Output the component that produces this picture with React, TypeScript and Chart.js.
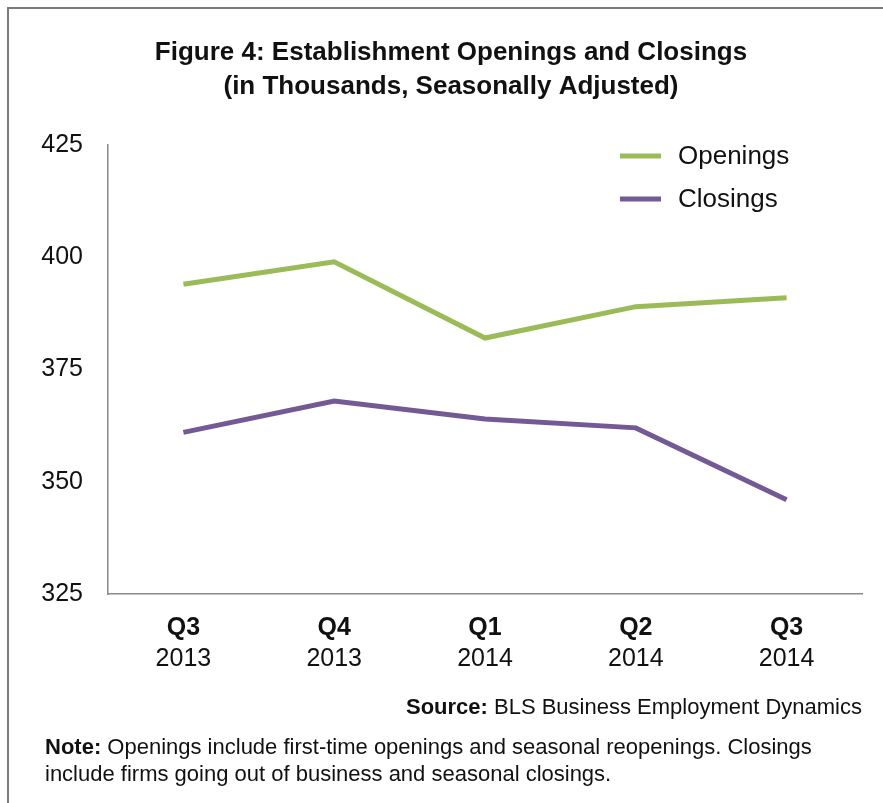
import React, { useEffect, useRef } from "react";
import { Chart, registerables } from "chart.js";

Chart.register(...registerables);

const quarters = ["Q3", "Q4", "Q1", "Q2", "Q3"];
const years = ["2013", "2013", "2014", "2014", "2014"];
const openings = [394, 399, 382, 389, 391];
const closings = [361, 368, 364, 362, 346];
const yTicks = [325, 350, 375, 400, 425];

const titleLines = [
  "Figure 4: Establishment Openings and Closings",
  "(in Thousands, Seasonally Adjusted)",
];
const sourceBold = "Source:";
const sourceText = " BLS Business Employment Dynamics";
const noteBold = "Note:";
const noteLine1 = " Openings include first-time openings and seasonal reopenings. Closings";
const noteLine2 = "include firms going out of business and seasonal closings.";

const FONT = "'Liberation Sans', Arial, Helvetica, sans-serif";
const GREEN = "#9BBB59";
const PURPLE = "#735A95";
const TEXT = "#111111";
const AXIS = "#8a8a8a";

const decorPlugin = {
  id: "decor",
  beforeDraw(chart: any) {
    const ctx = chart.ctx;
    ctx.save();
    ctx.fillStyle = "#ffffff";
    ctx.fillRect(0, 0, chart.width, chart.height);
    ctx.strokeStyle = "#7a7a7a";
    ctx.lineWidth = 2;
    ctx.beginPath();
    ctx.moveTo(8, chart.height);
    ctx.lineTo(8, 8);
    ctx.lineTo(chart.width, 8);
    ctx.stroke();
    ctx.restore();
  },
  afterDraw(chart: any) {
    const ctx = chart.ctx;
    ctx.save();
    // title
    ctx.fillStyle = TEXT;
    ctx.textAlign = "center";
    ctx.textBaseline = "middle";
    ctx.font = `bold 26px ${FONT}`;
    ctx.fillText(titleLines[0], 451, 53);
    ctx.fillText(titleLines[1], 451, 87);

    // legend
    const items = chart.data.datasets;
    const ys = [156, 199];
    items.forEach((ds: any, i: number) => {
      ctx.strokeStyle = ds.borderColor;
      ctx.lineWidth = 5;
      ctx.beginPath();
      ctx.moveTo(620, ys[i]);
      ctx.lineTo(661, ys[i]);
      ctx.stroke();
      ctx.fillStyle = TEXT;
      ctx.textAlign = "left";
      ctx.textBaseline = "middle";
      ctx.font = `26px ${FONT}`;
      ctx.fillText(ds.label, 678, ys[i] + 1);
    });

    // source (right aligned)
    ctx.textBaseline = "middle";
    ctx.textAlign = "left";
    ctx.font = `22px ${FONT}`;
    const wRest = ctx.measureText(sourceText).width;
    ctx.font = `bold 22px ${FONT}`;
    const wBold = ctx.measureText(sourceBold).width;
    const sx = 862 - wRest - wBold;
    ctx.fillText(sourceBold, sx, 708);
    ctx.font = `22px ${FONT}`;
    ctx.fillText(sourceText, sx + wBold, 708);

    // note
    ctx.font = `bold 22px ${FONT}`;
    const wn = ctx.measureText(noteBold).width;
    ctx.fillText(noteBold, 45, 748);
    ctx.font = `22px ${FONT}`;
    ctx.fillText(noteLine1, 45 + wn, 748);
    ctx.fillText(noteLine2, 45, 775);
    ctx.restore();
  },
};

export default function App() {
  const ref = useRef<HTMLCanvasElement | null>(null);
  useEffect(() => {
    if (!ref.current) return;
    const chart = new Chart(ref.current, {
      type: "line",
      data: {
        labels: quarters,
        datasets: [
          {
            label: "Openings",
            data: openings,
            borderColor: GREEN,
            backgroundColor: GREEN,
            borderWidth: 5,
            pointRadius: 0,
            tension: 0,
          },
          {
            label: "Closings",
            data: closings,
            borderColor: PURPLE,
            backgroundColor: PURPLE,
            borderWidth: 5,
            pointRadius: 0,
            tension: 0,
          },
        ],
      },
      options: {
        animation: false,
        responsive: false,
        maintainAspectRatio: false,
        layout: { padding: { left: 0, right: 21, top: 145, bottom: 119 } },
        plugins: {
          legend: { display: false },
          title: { display: false },
          tooltip: { enabled: false },
        },
        scales: {
          x: {
            type: "category",
            position: "bottom",
            weight: 0,
            offset: true,
            grid: { display: false, drawTicks: false },
            border: { display: true, color: AXIS, width: 1.5 },
            ticks: {
              color: TEXT,
              padding: 19,
              maxRotation: 0,
              autoSkip: false,
              font: { family: FONT, size: 25, weight: "bold" },
            },
            afterFit: (s: any) => {
              s.height = 50;
            },
          },
          x2: {
            type: "category",
            position: "bottom",
            weight: 1,
            labels: years,
            offset: true,
            grid: { display: false, drawTicks: false },
            border: { display: false },
            ticks: {
              color: TEXT,
              padding: 0,
              maxRotation: 0,
              autoSkip: false,
              font: { family: FONT, size: 25 },
            },
            afterFit: (s: any) => {
              s.height = 40;
            },
          },
          y: {
            min: yTicks[0],
            max: yTicks[yTicks.length - 1],
            grid: { display: false, drawTicks: false },
            border: { display: true, color: AXIS, width: 1.5 },
            afterBuildTicks: (s: any) => {
              s.ticks = yTicks.map((v) => ({ value: v }));
            },
            ticks: {
              color: TEXT,
              padding: 25,
              font: { family: FONT, size: 25 },
            },
            afterFit: (s: any) => {
              s.width = 108;
            },
          },
        },
      } as any,
      plugins: [decorPlugin],
    });
    return () => chart.destroy();
  }, []);
  return (
    <div style={{ position: "absolute", left: 0, top: 0, width: 883, height: 803 }}>
      <canvas ref={ref} width={883} height={803} style={{ display: "block" }} />
    </div>
  );
}
